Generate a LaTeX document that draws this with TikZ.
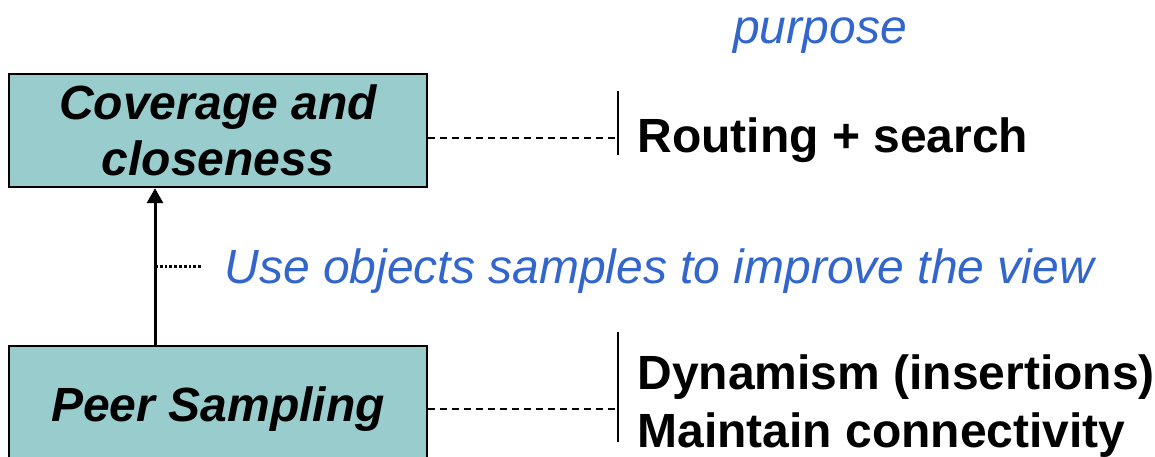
\documentclass[tikz,border=0pt]{standalone}
\usepackage{fontspec}
\setmainfont{Liberation Sans}
\usepackage{xcolor}
\usetikzlibrary{arrows.meta}
\definecolor{boxteal}{RGB}{153,204,204}
\definecolor{noteblue}{RGB}{51,102,204}

\begin{document}
\begin{tikzpicture}[x=0.5pt, y=-0.5pt,
    layer/.style={draw, line width=1.2pt, fill=boxteal, minimum width=209pt, inner sep=0pt, align=center, font=\fontsize{24}{28}\selectfont\bfseries\itshape},
    goal/.style={anchor=base west, inner sep=0pt, font=\fontsize{24}{29}\selectfont\bfseries},
    note/.style={inner sep=0pt, text=noteblue, font=\fontsize{24}{29}\selectfont\itshape},
    link/.style={dash pattern=on 3.5pt off 2.5pt, line width=1.4pt}]
    \useasboundingbox (0,0) rectangle (1155,456);

    % Layers
    \node[layer, minimum height=56.5pt] (cover) at (218,130.5) {Coverage and\\closeness};
    \node[layer, minimum height=63pt] (peer) at (218,409) {Peer Sampling};

    % Purposes
    \node[note, anchor=base] (purpose) at (820,43) {purpose};
    \node[goal] (routing) at (637,152) {Routing + search};
    \node[goal] (dynamism) at (637,389) {Dynamism (insertions)};
    \node[goal] (maintain) at (637,447) {Maintain connectivity};

    % Bars
    \coordinate (rtop) at (618,91);
    \coordinate (rbot) at (618,155);
    \coordinate (dtop) at (618,332);
    \coordinate (dbot) at (618,442);
    \draw[line width=1pt] (rtop) -- (rbot);
    \draw[line width=1pt] (dtop) -- (dbot);

    % Links
    \coordinate (rmid) at (618,138);
    \draw[link] (rmid -| cover.east) -- (rmid);
    \draw[link] (peer.east) -- (peer.east -| dtop);

    % Arrow
    \coordinate (up) at (155,266);
    \draw[-{Triangle[length=7.5pt,width=8pt]}, line width=1.5pt] (up |- peer.north) -- (up |- cover.south);
    \node[note, anchor=base west] (use) at (224,283) {Use objects samples to improve the view};
    \coordinate (usetip) at (202,266);
    \draw[line width=1.5pt, dash pattern=on 1.4pt off 1pt] (up) -- (usetip);
\end{tikzpicture}
\end{document}
